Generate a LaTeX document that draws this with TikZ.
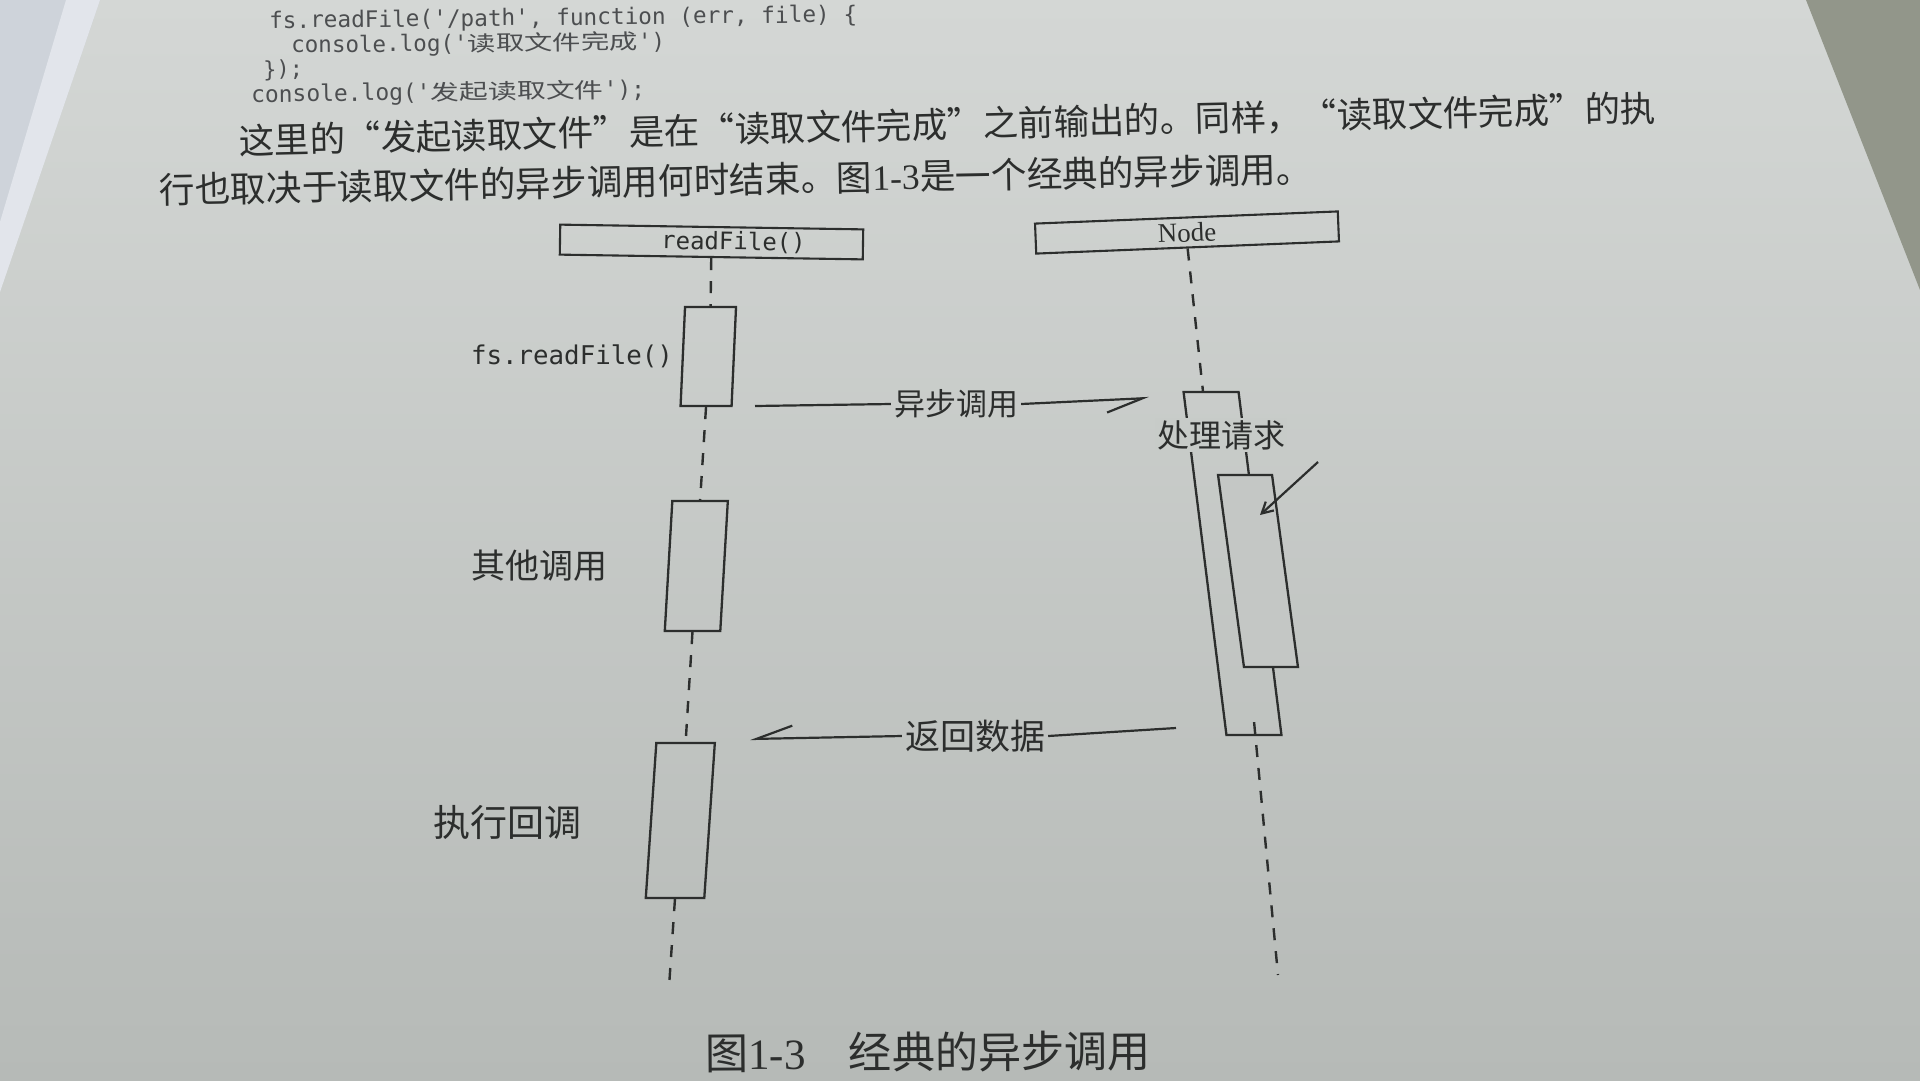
\documentclass[tikz,border=0pt]{standalone}
\usepackage{fontspec}
\usepackage{graphicx}
\setmainfont{Liberation Serif}
\setmonofont{DejaVu Sans Mono}
\newfontfamily\cjk{Noto Sans CJK SC}
\newfontfamily\cjkwide[FakeStretch=1.36]{Noto Sans CJK SC}
\usetikzlibrary{arrows.meta,calc}

\definecolor{ink}{RGB}{44,46,45}
\definecolor{codeink}{RGB}{76,78,80}
\definecolor{paperT}{RGB}{212,215,213}
\definecolor{paperB}{RGB}{182,186,183}
\definecolor{paperI}{RGB}{196,199,197}
\definecolor{paperL}{RGB}{199,203,200}
\definecolor{outside}{RGB}{146,150,138}
\definecolor{corner}{RGB}{206,211,218}
\definecolor{band}{RGB}{226,229,235}

\tikzset{
  ln/.style={draw=ink, line width=2.2pt},
  actbox/.style={draw=ink, line width=2.3pt, inner sep=0pt},
  life/.style={draw=ink, line width=2.4pt, dash pattern=on 12pt off 11pt},
  hdr/.style={draw=ink, line width=2.1pt, minimum width=303pt, minimum height=30pt, inner sep=0pt, text=ink},
  lbl/.style={text=ink, inner sep=0pt},
  msglbl/.style={text=ink, inner ysep=0pt, inner xsep=3pt},
  msg/.style={draw=ink, line width=2.2pt, -{Straight Barb[harpoon,swap,length=36pt,width=25pt]}},
  codeline/.style={text=codeink, inner sep=0pt, anchor=west},
  paraline/.style={text=ink, inner sep=0pt, anchor=west}
}

\begin{document}
\begin{tikzpicture}[x=1pt,y=-1pt]
\useasboundingbox (0,0) rectangle (1920,1080);
% paper and photo surroundings
\shade[top color=paperT, bottom color=paperB] (0,0) rectangle (1920,1080);
\fill[corner] (0,0) -- (100,0) -- (0,290) -- cycle;
\fill[band] (66,0) -- (100,0) -- (0,292) -- (0,222) -- cycle;
\fill[outside] (1806,0) -- (1920,0) -- (1920,290) -- cycle;

% code above the figure
\node[codeline, rotate=0.6] (c1) at (269,22) {\resizebox{588pt}{!}{\ttfamily\fontsize{22.7}{24}\selectfont fs.readFile('/path', function (err, file) \{}};
\node[codeline, rotate=0.6] (c2) at (291,46.5) {\resizebox{374pt}{!}{\ttfamily\fontsize{22.7}{24}\selectfont console.log('{\cjkwide\fontsize{21}{22}\selectfont 读取文件完成}')}};
\node[codeline, rotate=0.6] (c3) at (263,70.5) {\ttfamily\fontsize{22}{23}\selectfont \});};
\node[codeline, rotate=0.8] (c4) at (251,96) {\resizebox{394pt}{!}{\ttfamily\fontsize{22.7}{24}\selectfont console.log('{\cjkwide\fontsize{21}{22}\selectfont 发起读取文件}');}};

% paragraph
\node[paraline, rotate=1.33] (p1) at (239,141) {\resizebox{1417pt}{!}{\cjk\fontsize{34}{34}\selectfont 这里的“发起读取文件”是在“读取文件完成”之前输出的。同样，“读取文件完成”的执}};
\node[paraline, rotate=1.05] (p2) at (159,190) {\resizebox{1153pt}{!}{\cjk\fontsize{35}{35}\selectfont 行也取决于读取文件的异步调用何时结束。图{\rmfamily 1-3}是一个经典的异步调用。}};

% lifeline heads
\node[hdr, rotate=-0.9] (rf) at (711.5,242) {\hspace*{44pt}{\ttfamily\fontsize{24}{24}\selectfont readFile()}};
\node[hdr, rotate=2.3] (nd) at (1187,232.5) {\fontsize{27}{27}\selectfont Node};

% activation boxes, left
\node[actbox, minimum width=51pt, minimum height=99pt, xslant=0.045] (b1) at (708.3,356.5) {};
\node[actbox, minimum width=55.5pt, minimum height=130pt, xslant=0.058] (b2) at (696.3,566) {};
\node[actbox, minimum width=58.5pt, minimum height=155pt, xslant=0.068] (b3) at (680.3,820.5) {};

% activation boxes, right
\node[actbox, minimum width=55pt, minimum height=343pt, xslant=-0.125] (outer) at (1232.5,563.5) {};
\node[actbox, fill=paperI, minimum width=54pt, minimum height=192pt, xslant=-0.135] (inner) at (1258,571) {};
\node[lbl, fill=paperL, inner sep=2pt, font={\cjk\fontsize{32}{32}\selectfont}] (req) at (1221,435) {处理请求};

% side labels
\node[lbl, font={\ttfamily\fontsize{25.8}{26}\selectfont}] (l1) at (572,356) {fs.readFile()};
\node[lbl, font={\cjk\fontsize{34}{34}\selectfont}] (l2) at (539,566) {其他调用};
\node[lbl, font={\cjk\fontsize{37}{37}\selectfont}] (l3) at (507,822) {执行回调};

% lifelines
\coordinate (lend) at (669,987);
\coordinate (rend) at (1278,975);
\draw[life] (rf.south) -- (b1.north);
\draw[life] (b1.south) -- (b2.north);
\draw[life] (b2.south) -- (b3.north);
\draw[life] (b3.south) -- (lend);
\draw[life] (nd.south) -- ([xshift=-8pt]outer.north);
\draw[life] ([yshift=14pt]outer.south) -- (rend);

% messages
\coordinate (m1s) at (755,406);
\coordinate (m1e) at (1149,398);
\node[msglbl, font={\cjk\fontsize{31}{31}\selectfont}] (m1) at (956,404) {异步调用};
\draw[ln] (m1s) -- (m1.west);
\draw[msg] (m1.east) -- (m1e);

\coordinate (m2s) at (1176,728);
\coordinate (m2e) at (750,739);
\node[msglbl, font={\cjk\fontsize{35}{35}\selectfont}] (m2) at (975,736) {返回数据};
\draw[ln] (m2s) -- (m2.east);
\draw[msg] (m2.west) -- (m2e);

\coordinate (ptr) at (1318,462);
\coordinate (ptrtip) at (1260,515);
\draw[ln, -{Straight Barb[length=11pt,width=12pt]}] (ptr) -- (ptrtip);

% caption
\node[lbl, rotate=0.4] (cap) at (928,1052) {\resizebox{446pt}{!}{\cjk\fontsize{44}{44}\selectfont 图{\rmfamily 1-3}\hspace{1em}经典的异步调用}};
\end{tikzpicture}
\end{document}
